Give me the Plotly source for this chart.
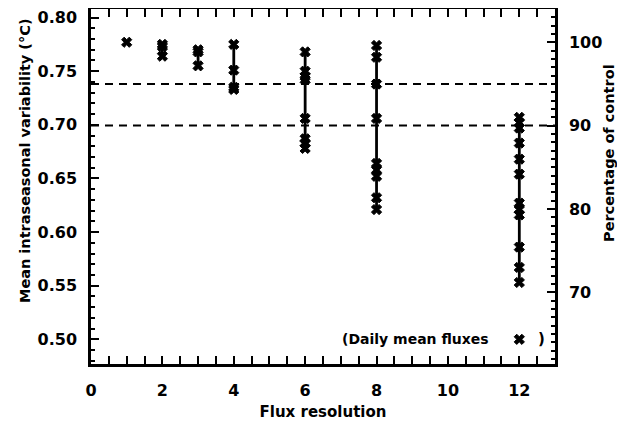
import plotly.graph_objects as go

# ---- data ----
control = 0.777
resolutions = [1, 2, 3, 4, 6, 8, 12]
values_by_resolution = {
    1: [0.777],
    2: [0.775, 0.773, 0.764],
    3: [0.770, 0.768, 0.755],
    4: [0.775, 0.751, 0.735, 0.733],
    6: [0.768, 0.750, 0.745, 0.742, 0.706, 0.687, 0.683, 0.678],
    8: [0.774, 0.763, 0.738, 0.706, 0.664, 0.658, 0.652, 0.632, 0.621],
    12: [0.707, 0.702, 0.697, 0.683, 0.668, 0.654, 0.627, 0.621, 0.616,
         0.586, 0.567, 0.553],
}
threshold_fractions = [0.95, 0.90]
legend_x = [12]
legend_y = [0.50]

x_title = "Flux resolution"
y_title = "Mean intraseasonal variability (°C)"
y2_title = "Percentage of control"
legend_text = "(Daily mean fluxes"

FONT = "DejaVu Sans"
black = "#000000"

fig = go.Figure()

# vertical range lines
for r in resolutions:
    vals = values_by_resolution[r]
    if len(vals) > 1:
        fig.add_trace(go.Scatter(
            x=[r, r], y=[min(vals), max(vals)], mode="lines",
            line=dict(color=black, width=2.8), showlegend=False, hoverinfo="skip"))

marker_style = dict(symbol="x", size=9, color=black, line=dict(color=black, width=1))

# markers
for r in resolutions:
    vals = values_by_resolution[r]
    fig.add_trace(go.Scatter(x=[r] * len(vals), y=vals, mode="markers",
                             marker=marker_style, showlegend=False))

# legend sample marker
fig.add_trace(go.Scatter(x=legend_x, y=legend_y, mode="markers",
                         marker=marker_style, showlegend=False))

# threshold dashed lines
for f in threshold_fractions:
    fig.add_hline(y=control * f, line=dict(color=black, width=2, dash="8px,6px"))

# dummy trace for right axis
ymin, ymax = 0.477, 0.808
fig.add_trace(go.Scatter(x=[None], y=[None], yaxis="y2", showlegend=False))

fig.add_annotation(x=11.2, y=0.50, xref="x", yref="y", text=legend_text,
                   showarrow=False, xanchor="right", yanchor="middle",
                   font=dict(family=FONT, size=14, color=black, weight="bold"))
fig.add_annotation(x=12.62, y=0.50, xref="x", yref="y", text=")",
                   showarrow=False, xanchor="center", yanchor="middle",
                   font=dict(family=FONT, size=15, color=black, weight="bold"))

# axis titles as annotations (placed like the reference)
fig.add_annotation(x=-0.142, y=0.572, xref="paper", yref="paper", text=y_title,
                   textangle=-90, showarrow=False, xanchor="center", yanchor="middle",
                   font=dict(family=FONT, size=14.5, color=black, weight="bold"))
fig.add_annotation(x=1.116, y=0.594, xref="paper", yref="paper", text=y2_title,
                   textangle=-90, showarrow=False, xanchor="center", yanchor="middle",
                   font=dict(family=FONT, size=14.5, color=black, weight="bold"))

tickfont = dict(family=FONT, size=16, color=black, weight="bold")
titlefont = dict(family=FONT, size=15, color=black, weight="bold")

fig.update_layout(
    width=617, height=413,
    margin=dict(l=83, r=70, t=1, b=57),
    paper_bgcolor="white", plot_bgcolor="white",
    showlegend=False,
    xaxis=dict(range=[0, 13], dtick=2, tick0=0, ticks="inside", ticklen=8,
               tickwidth=2, tickcolor=black, showline=True, linecolor=black,
               linewidth=2.5, mirror="allticks", showgrid=False, zeroline=False,
               tickfont=tickfont, automargin=False, ticklabelstandoff=10,
               minor=dict(dtick=0.5, ticks="inside", ticklen=4, tickwidth=2,
                          tickcolor=black, showgrid=False),
               title=dict(text=x_title, font=titlefont, standoff=9)),
    yaxis=dict(range=[ymin, ymax], dtick=0.05, tick0=0.5, tickformat=".2f",
               ticks="inside", ticklen=8, tickwidth=2, tickcolor=black,
               showline=True, linecolor=black, linewidth=2.5, mirror=False,
               showgrid=False, zeroline=False, tickfont=tickfont,
               automargin=False, ticklabelstandoff=8,
               minor=dict(dtick=0.01, ticks="inside", ticklen=4, tickwidth=2,
                          tickcolor=black, showgrid=False)),
    yaxis2=dict(range=[ymin / control * 100, ymax / control * 100],
                overlaying="y", side="right", dtick=10, tick0=0,
                ticks="inside", ticklen=8, tickwidth=2, tickcolor=black,
                showline=True, linecolor=black, linewidth=2.5,
                showgrid=False, zeroline=False, tickfont=tickfont,
                automargin=False, ticklabelstandoff=8,
                minor=dict(dtick=1, ticks="inside", ticklen=4, tickwidth=2,
                           tickcolor=black, showgrid=False)),
)

fig.write_html("out.html")
